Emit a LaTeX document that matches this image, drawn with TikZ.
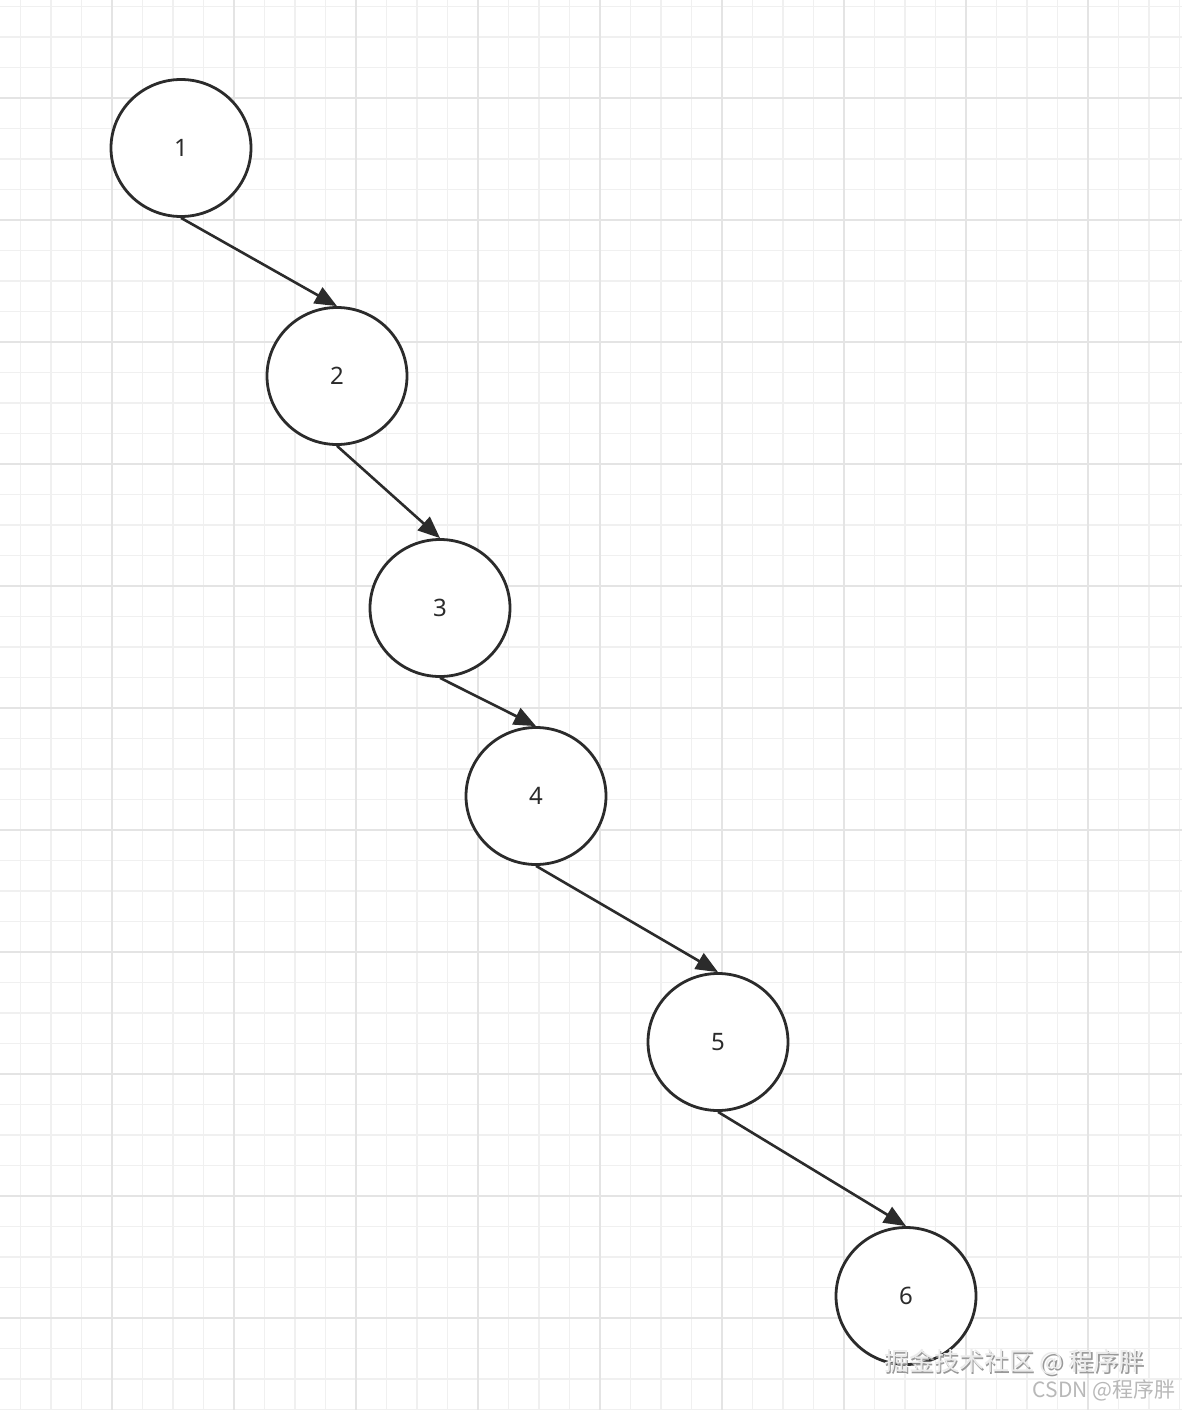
\documentclass[tikz,border=0pt]{standalone}
\usepackage{fontspec}
\setmainfont{Noto Sans}
\newfontfamily\cjk{Noto Sans CJK SC}
\usetikzlibrary{shapes.geometric,arrows.meta}

\definecolor{grille}{HTML}{F0F0F0}
\definecolor{grillemaj}{HTML}{E4E4E4}
\definecolor{trait}{HTML}{2B2B2B}

\begin{document}
\begin{tikzpicture}[x=1pt,y=-1pt]

%%%%%%%%%%%%%%%%%%%%%%
%%%	 Def géométrie  %%%
%%%%%%%%%%%%%%%%%%%%%%

\def \largeur{1182}
\def \haut{1410}
\def \pasmin{30.5}
\def \pasmaj{122}

%%%%%%%%%%%%%%%%%%%%%%
%%%	   Def style    %%%
%%%%%%%%%%%%%%%%%%%%%%

\def \heavy{2.8pt}
\def \light{2.6pt}

\tikzset{
	noeud/.style={ellipse, draw=trait, line width=\heavy, fill=white,
		minimum width=140pt, minimum height=137pt, inner sep=0pt,
		font=\fontsize{24}{28}\selectfont, text=trait},
	fleche/.style={draw=trait, line width=\light,
		-{Triangle[length=22pt,width=18pt]}}
}

\useasboundingbox (0,0) rectangle (\largeur,\haut);
\fill[white] (0,0) rectangle (\largeur,\haut);

%%%%%%%%%%%%%%%%%%%%%%
%%%	    Grille      %%%
%%%%%%%%%%%%%%%%%%%%%%

\foreach \i in {0,...,38} {
	\draw[grille, line width=1.6pt] (20.5+\i*\pasmin,0) -- + (0,\haut);
}
\foreach \i in {0,...,46} {
	\draw[grille, line width=1.6pt] (0,6.5+\i*\pasmin) -- + (\largeur,0);
}
\foreach \i in {0,...,8} {
	\draw[grillemaj, line width=2pt] (112+\i*\pasmaj,0) -- + (0,\haut);
}
\foreach \i in {0,...,10} {
	\draw[grillemaj, line width=2pt] (0,98+\i*\pasmaj) -- + (\largeur,0);
}

%%%%%%%%%%%%%%%%%%%%%%
%%%	    Dessin      %%%
%%%%%%%%%%%%%%%%%%%%%%

\node[noeud] (N1) at (181,148) {1};
\node[noeud] (N2) at (337,376) {2};
\node[noeud] (N3) at (440,608) {3};
\node[noeud] (N4) at (536,796) {4};
\node[noeud] (N5) at (718,1042) {5};
\node[noeud] (N6) at (906,1296) {6};

% On relie chaque noeud au suivant
\draw[fleche] (N1.south) -- (N2.north);
\draw[fleche] (N2.south) -- (N3.north);
\draw[fleche] (N3.south) -- (N4.north);
\draw[fleche] (N4.south) -- (N5.north);
\draw[fleche] (N5.south) -- (N6.north);

%%%%%%%%%%%%%%%%%%%%%%
%%%	   Filigrane    %%%
%%%%%%%%%%%%%%%%%%%%%%

\node[anchor=east, text=gray!80, font=\cjk\fontsize{25}{29}\selectfont] at (1149,1364) {掘金技术社区 @ 程序胖};
\node[anchor=east, text=white!92!black, font=\cjk\fontsize{25}{29}\selectfont] (WA) at (1147.5,1362) {掘金技术社区 @ 程序胖};
\node[anchor=east, text=black!28, font=\cjk\fontsize{21}{25}\selectfont] (WB) at (1179,1390) {CSDN @程序胖};

%%%%%%%%%%%%%%%%%%%%%%%%%%%%%%%%%%%%%%%%%

\end{tikzpicture}
\end{document}
